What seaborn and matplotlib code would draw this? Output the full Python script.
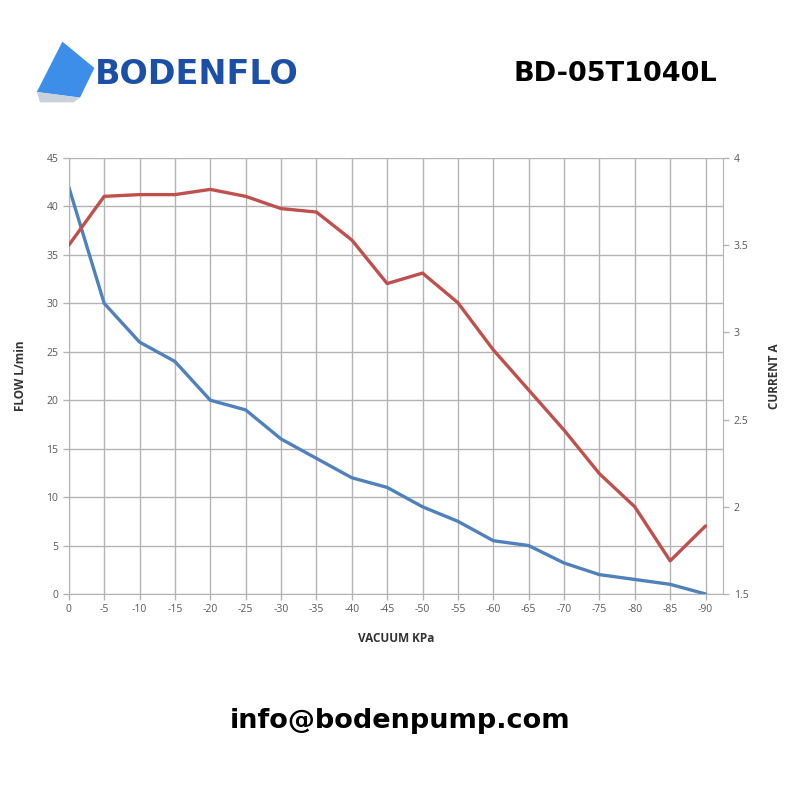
import matplotlib
matplotlib.use("Agg")
import matplotlib.pyplot as plt
from matplotlib.patches import Polygon
import seaborn as sns
import numpy as np

# vacuum steps (kPa) and readings
vacuum = [0, -5, -10, -15, -20, -25, -30, -35, -40, -45,
          -50, -55, -60, -65, -70, -75, -80, -85, -90]
flow = [42, 30, 26, 24, 20, 19, 16, 14, 12, 11,
        9, 7.5, 5.5, 5, 3.2, 2, 1.5, 1, 0]
current = [3.5, 3.78, 3.79, 3.79, 3.82, 3.78, 3.71, 3.69, 3.53, 3.28,
           3.34, 3.17, 2.9, 2.67, 2.44, 2.19, 2.0, 1.69, 1.89]
flow_ticks = list(range(0, 50, 5))
current_ticks = [1.5, 2, 2.5, 3, 3.5, 4]

BLUE = "#4f81bd"
RED = "#c0504d"
GRID = "#b4b4b4"
TICK = "#595959"

sns.set_style("white")
plt.rcParams["font.family"] = ["Open Sans", "DejaVu Sans"]

fig = plt.figure(figsize=(8, 8), dpi=100)
ax = fig.add_axes([0.086, 0.2575, 0.818, 0.545])
pos = np.arange(len(vacuum))

sns.lineplot(x=pos, y=flow, ax=ax, color=BLUE, linewidth=2.4)
ax.set_xlim(0, len(vacuum) - 0.5)
ax.set_ylim(0, 45)
ax.set_yticks(flow_ticks)
ax.set_xticks(pos)
ax.set_xticklabels([str(v) for v in vacuum])
ax.grid(True, color=GRID, linewidth=1)
ax.set_axisbelow(True)
for s in ["top", "right"]:
    ax.spines[s].set_visible(False)
for s in ["left", "bottom"]:
    ax.spines[s].set_color(GRID)
ax.tick_params(axis="both", labelsize=7.5, colors=TICK, length=4, width=1,
               left=True, bottom=True)
ax.tick_params(axis="both", color=GRID)
ax.set_ylabel("FLOW L/min", fontsize=8.5, fontweight="bold", color="#333333",
              labelpad=14)
ax.set_xlabel("VACUUM KPa", fontsize=8.5, fontweight="bold", color="#333333",
              labelpad=12)

ax2 = ax.twinx()
sns.lineplot(x=pos, y=current, ax=ax2, color=RED, linewidth=2.4)
ax2.set_ylim(1.5, 4)
ax2.set_yticks(current_ticks)
ax2.set_yticklabels([f"{t:g}" for t in current_ticks])
ax2.grid(False)
for s in ["top", "left", "bottom"]:
    ax2.spines[s].set_visible(False)
ax2.spines["right"].set_color(GRID)
ax2.tick_params(axis="y", labelsize=7.5, colors=TICK, length=4, width=1,
                right=True)
ax2.tick_params(axis="y", color=GRID)
ax2.set_ylabel("CURRENT A", fontsize=8.5, fontweight="bold", color="#333333",
               labelpad=14)

# header and footer
fig.patches.append(Polygon([[0.046, 0.885], [0.078, 0.948], [0.118, 0.915],
                            [0.1, 0.878]],
                           closed=True, transform=fig.transFigure,
                           facecolor="#3d8ee8", edgecolor="none"))
fig.patches.append(Polygon([[0.046, 0.885], [0.1, 0.878], [0.092, 0.872],
                            [0.05, 0.872]],
                           closed=True, transform=fig.transFigure,
                           facecolor="#c9d1dc", edgecolor="none"))
fig.text(0.118, 0.907, "BODENFLO", fontsize=24, fontweight="bold",
         color="#1c4fa6", va="center", ha="left",
         family=["DejaVu Sans"])
fig.text(0.897, 0.907, "BD-05T1040L", fontsize=19.5, fontweight="bold",
         color="black", va="center", ha="right",
         family=["DejaVu Sans"])
fig.text(0.5, 0.099, "info@bodenpump.com", fontsize=19.5, fontweight="bold",
         color="black", va="center", ha="center",
         family=["DejaVu Sans"])

fig.savefig("out.png", dpi=100, facecolor="white")
